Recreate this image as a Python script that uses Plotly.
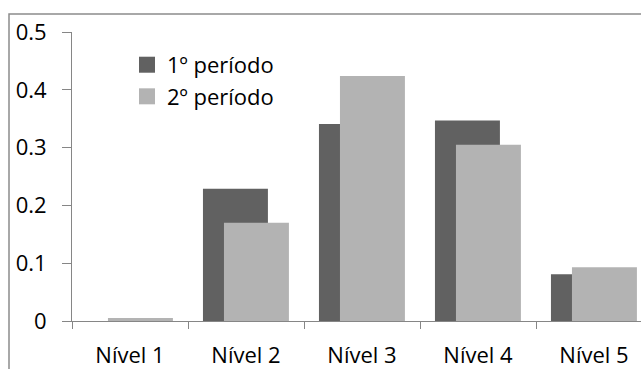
import plotly.graph_objects as go

# Categories and the two series (share of students per level)
niveis = ["Nível 1", "Nível 2", "Nível 3", "Nível 4", "Nível 5"]
periodo_1 = [0.0, 0.229, 0.341, 0.347, 0.081]
periodo_2 = [0.005, 0.170, 0.424, 0.305, 0.093]
nomes = ["1º período", "2º período"]
cores = ["#616161", "#b3b3b3"]

W, H = 641, 369
ML, MT, MB = 72, 32, 46
plot_w = W - ML
plot_h = H - MT - MB

FONT = dict(family="Open Sans", size=22, color="#000000")
AXIS = "#868686"

fig = go.Figure()

# Overlapping clustered bars (second series partly covers the first)
bar_w = 0.56
offsets = [-0.371, -0.190]
for serie, nome, cor, off in zip([periodo_1, periodo_2], nomes, cores, offsets):
    fig.add_trace(go.Bar(
        x=niveis, y=serie, name=nome,
        marker=dict(color=cor, line=dict(width=0)),
        width=bar_w, offset=off, showlegend=False,
    ))

# Legend entries with square swatches
for nome, cor in zip(nomes, cores):
    fig.add_trace(go.Scatter(
        x=[None], y=[None], mode="markers", name=nome,
        marker=dict(symbol="square", size=16, color=cor),
    ))

# Category axis extends a little past the right edge of the page
x_right = 4.5 - (ML + 5 * 116 - W) / 116

fig.update_layout(
    width=W, height=H,
    margin=dict(l=ML, r=0, t=MT, b=MB, pad=0),
    paper_bgcolor="white", plot_bgcolor="white",
    barmode="overlay",
    font=FONT,
    showlegend=True,
    legend=dict(
        x=(127 - ML) / plot_w, xanchor="left",
        y=(H - MB - 44) / plot_h, yanchor="top",
        bgcolor="rgba(0,0,0,0)", borderwidth=0,
        font=FONT, itemsizing="trace", tracegroupgap=0,
    ),
    xaxis=dict(
        type="category", range=[-0.5, x_right],
        showline=True, linecolor=AXIS, linewidth=1,
        ticks="outside", ticklen=7, tickcolor=AXIS, tickwidth=1,
        tickson="boundaries", showgrid=False, zeroline=False,
        tickfont=FONT, ticklabelstandoff=15,
    ),
    yaxis=dict(
        range=[0, 0.5], dtick=0.1, tick0=0,
        showline=True, linecolor=AXIS, linewidth=1,
        ticks="outside", ticklen=9, tickcolor=AXIS, tickwidth=1,
        showgrid=False, zeroline=False,
        tickfont=FONT, ticklabelstandoff=11,
    ),
    shapes=[dict(
        type="rect", xref="paper", yref="paper",
        x0=(9 - ML) / plot_w, x1=1.2,
        y0=-0.5, y1=(H - MB - 14) / plot_h,
        line=dict(color="#8c8c8c", width=1.5), fillcolor="rgba(0,0,0,0)",
        layer="below",
    )],
)

fig.write_html("out.html")
